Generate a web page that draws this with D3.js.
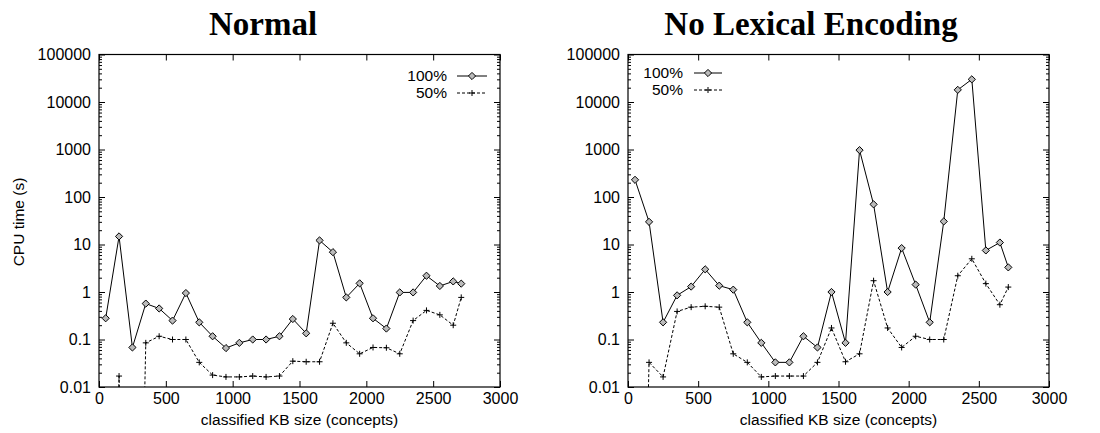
<!DOCTYPE html>
<html><head><meta charset="utf-8">
<script src="https://cdn.jsdelivr.net/npm/d3@7"></script>
<style>body{margin:0;background:#fff}</style>
</head><body><svg id="c" width="1100" height="433"></svg>
<script>
// ---- data ----
const sizes = [50,150,250,350,450,550,650,750,850,950,1050,1150,1250,1350,1450,1550,1650,1750,1850,1950,2050,2150,2250,2350,2450,2550,2650,2710];
const normal100 = [0.28,14.8,0.068,0.57,0.45,0.25,0.95,0.23,0.117,0.066,0.085,0.1,0.1,0.117,0.27,0.135,12.2,6.9,0.77,1.52,0.28,0.17,0.98,0.98,2.2,1.34,1.67,1.5];
const normal50  = [0,0.017,0,0.085,0.117,0.1,0.1,0.033,0.0178,0.0163,0.0163,0.017,0.0163,0.017,0.035,0.034,0.034,0.22,0.085,0.05,0.068,0.067,0.05,0.25,0.41,0.33,0.2,0.77];
const nolex100  = [230,30,0.23,0.85,1.3,3.0,1.36,1.12,0.23,0.085,0.033,0.033,0.117,0.068,1.0,0.085,970,70,1.0,8.4,1.43,0.23,30.6,18000,30000,7.5,11,3.3];
const nolex50   = [0,0.033,0.0163,0.39,0.48,0.5,0.48,0.05,0.033,0.0163,0.017,0.017,0.017,0.033,0.175,0.034,0.05,1.73,0.175,0.068,0.117,0.1,0.1,2.2,5.0,1.5,0.54,1.27];
const seriesNames = ["100%","50%"];
const titles = ["Normal","No Lexical Encoding"];
const xTicks = [0,500,1000,1500,2000,2500,3000];
const yTicks = [0.01,0.1,1,10,100,1000,10000,100000];
const yTickLabels = ["0.01","0.1","1","10","100","1000","10000","100000"];
const xLabel = "classified KB size (concepts)";
const yLabel = "CPU time (s)";

const svg = d3.select("#c");
const FONT = "'Liberation Sans', Arial, sans-serif";

const panels = [
  {x0:99, x1:500, title:titles[0], tx:263, s100:normal100, s50:normal50, ylab:true, legendTextX:447, legendLine:[457,487], legendY:[76,93]},
  {x0:628, x1:1049, title:titles[1], tx:811, s100:nolex100, s50:nolex50, ylab:false, legendTextX:683, legendLine:[694,722], legendY:[73,90]}
];
const yTop = 54.5, yBot = 387;

const minorTicks = [];
for (let e = -2; e < 5; e++) for (let k = 2; k <= 9; k++) minorTicks.push(k * Math.pow(10, e));

function diamond(g, cx, cy) {
  const r = 3.6;
  g.append("path").attr("d", `M${cx},${cy-r}L${cx+r},${cy}L${cx},${cy+r}L${cx-r},${cy}Z`)
    .attr("fill", "#bbb").attr("stroke", "#000").attr("stroke-width", 1);
}
function plus(g, cx, cy) {
  const r = 3;
  g.append("path").attr("d", `M${cx-r},${cy}H${cx+r}M${cx},${cy-r}V${cy+r}`)
    .attr("stroke", "#000").attr("stroke-width", 1);
}

panels.forEach((p, i) => {
  const x = d3.scaleLinear().domain([0, 3000]).range([p.x0, p.x1]);
  const y = d3.scaleLog().domain([0.01, 100000]).range([yBot, yTop]);
  const yv = v => y(v > 0 ? v : 1e-14);
  const g = svg.append("g");

  const cid = "clip" + i;
  svg.append("clipPath").attr("id", cid).append("rect")
    .attr("x", p.x0).attr("y", yTop).attr("width", p.x1 - p.x0).attr("height", yBot - yTop);

  const axL = g.append("g").attr("transform", `translate(${p.x0},0)`)
    .call(d3.axisLeft(y).tickValues(yTicks).tickSize(-6).tickPadding(8)
      .tickFormat((d, j) => yTickLabels[j]));
  const axR = g.append("g").attr("transform", `translate(${p.x1},0)`)
    .call(d3.axisRight(y).tickValues(yTicks).tickSize(-6).tickFormat(""));
  const mL = g.append("g").attr("transform", `translate(${p.x0},0)`)
    .call(d3.axisLeft(y).tickValues(minorTicks).tickSize(-3).tickFormat(""));
  const mR = g.append("g").attr("transform", `translate(${p.x1},0)`)
    .call(d3.axisRight(y).tickValues(minorTicks).tickSize(-3).tickFormat(""));
  const axB = g.append("g").attr("transform", `translate(0,${yBot})`)
    .call(d3.axisBottom(x).tickValues(xTicks).tickSize(-6).tickPadding(6).tickFormat(d3.format("d")));
  const axT = g.append("g").attr("transform", `translate(0,${yTop})`)
    .call(d3.axisTop(x).tickValues(xTicks).tickSize(-6).tickFormat(""));
  [axL, axR, mL, mR, axB, axT].forEach(a => {
    a.select(".domain").remove();
    a.selectAll("line").attr("stroke", "#000").attr("stroke-width", 1);
    a.selectAll("text").attr("font-family", FONT).attr("font-size", "16px").attr("fill", "#000");
  });

  g.append("rect").attr("x", p.x0).attr("y", yTop).attr("width", p.x1 - p.x0).attr("height", yBot - yTop)
    .attr("fill", "none").attr("stroke", "#000").attr("stroke-width", 1.2);

  const data = g.append("g").attr("clip-path", `url(#${cid})`);
  const lineGen = d3.line().x((d, j) => x(sizes[j])).y(d => yv(d));
  data.append("path").attr("d", lineGen(p.s50)).attr("fill", "none")
    .attr("stroke", "#000").attr("stroke-width", 1).attr("stroke-dasharray", "3,2");
  data.append("path").attr("d", lineGen(p.s100)).attr("fill", "none")
    .attr("stroke", "#000").attr("stroke-width", 1);
  p.s50.forEach((v, j) => { if (v > 0) plus(data, x(sizes[j]), yv(v)); });
  p.s100.forEach((v, j) => { if (v > 0) diamond(data, x(sizes[j]), yv(v)); });

  const lg = g.append("g");
  seriesNames.forEach((name, k) => {
    const ly = p.legendY[k];
    lg.append("text").attr("x", p.legendTextX).attr("y", ly).attr("dy", "0.35em")
      .attr("text-anchor", "end").attr("font-family", FONT).attr("font-size", "15.5px").text(name);
    const ln = lg.append("line").attr("x1", p.legendLine[0]).attr("x2", p.legendLine[1])
      .attr("y1", ly).attr("y2", ly).attr("stroke", "#000").attr("stroke-width", 1);
    const mx = (p.legendLine[0] + p.legendLine[1]) / 2;
    if (k === 0) diamond(lg, mx, ly); else { ln.attr("stroke-dasharray", "3,2"); plus(lg, mx, ly); }
  });

  svg.append("text").attr("x", p.tx).attr("y", 35).attr("text-anchor", "middle")
    .attr("font-family", "'Liberation Serif', 'Times New Roman', serif").attr("font-weight", "bold")
    .attr("font-size", "33px").text(p.title);

  svg.append("text").attr("x", (p.x0 + p.x1) / 2).attr("y", 425).attr("text-anchor", "middle")
    .attr("font-family", FONT).attr("font-size", "15.5px").text(xLabel);

  if (p.ylab) {
    svg.append("text").attr("transform", `translate(24,222) rotate(-90)`).attr("text-anchor", "middle")
      .attr("font-family", FONT).attr("font-size", "15.5px").text(yLabel);
  }
});
</script></body></html>
